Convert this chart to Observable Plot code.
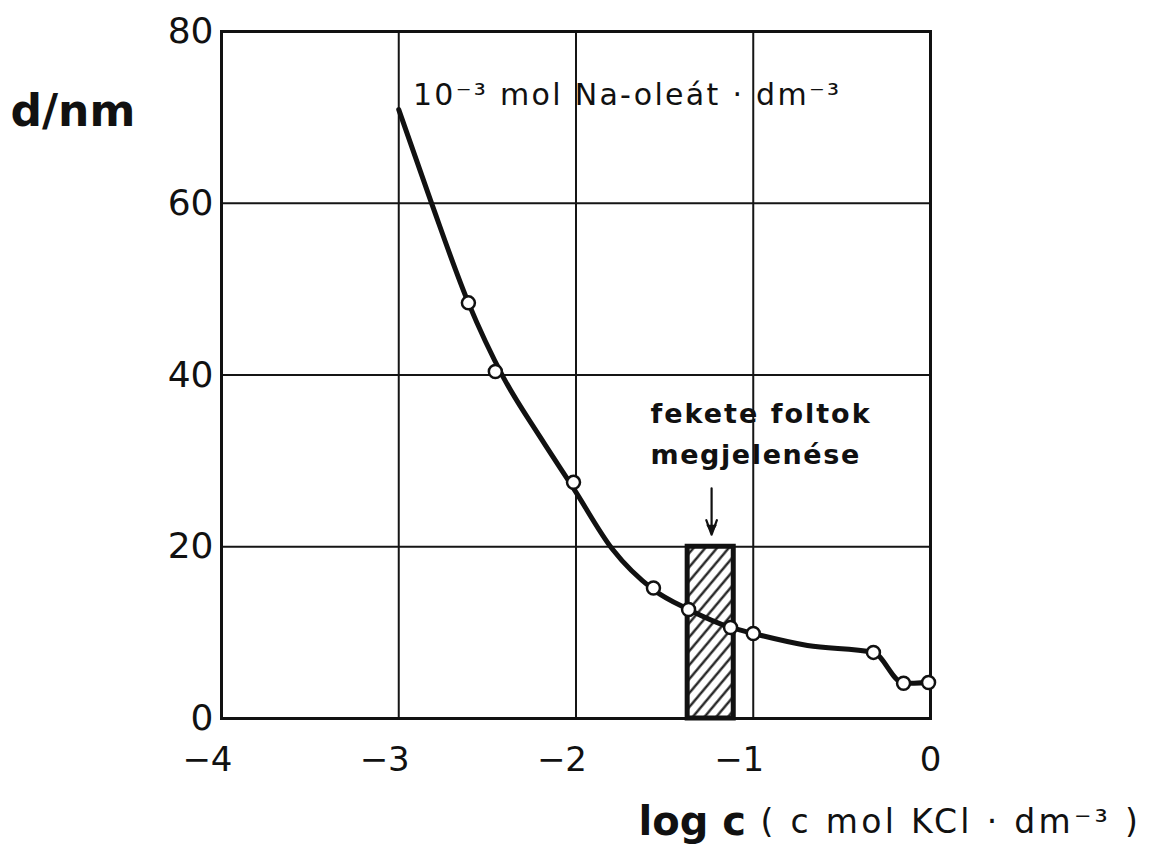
<!DOCTYPE html>
<html><head><meta charset="utf-8">
<script src="https://cdn.jsdelivr.net/npm/d3@7"></script>
<script src="https://cdn.jsdelivr.net/npm/@observablehq/plot@0.6"></script>
<style>body{margin:0;background:#fff} svg{display:block}</style>
</head><body><div id="chart"></div>
<script>
// smooth curve through the measurements (log c, d/nm); starts at log c = -3 without marker
const curveX = [-3.0, -2.82, -2.607, -2.409, -2.2, -2.014, -1.794, -1.563, -1.365, -1.128, -1.0, -0.694, -0.322, -0.152, -0.011];
const curveY = [70.9, 60.3, 48.4, 39.7, 32.7, 26.8, 19.7, 15.0, 12.7, 10.6, 9.9, 8.5, 7.7, 4.1, 4.2];
// measured points (open circles)
const pointX = [-2.607, -2.455, -2.014, -1.563, -1.365, -1.128, -1.0, -0.322, -0.152, -0.011];
const pointY = [48.4, 40.4, 27.5, 15.2, 12.7, 10.6, 9.9, 7.7, 4.1, 4.2];
// hatched band (appearance of black spots)
const bandX1 = [-1.37];
const bandX2 = [-1.11];
const bandTop = [20];
const xTicks = [-4, -3, -2, -1, 0];
const yTicks = [0, 20, 40, 60, 80];
const xDomain = [-4, 0];
const yDomain = [0, 80];

const curve = curveX.map((x, i) => ({x, y: curveY[i]}));
const points = pointX.map((x, i) => ({x, y: pointY[i]}));
const band = bandX1.map((x1, i) => ({x1, x2: bandX2[i], y1: 0, y2: bandTop[i]}));
const fmt = d => d < 0 ? "\u2212" + Math.abs(d) : String(d);

const oleatLabel = "10\u207B\u00B3 mol Na-ole\u00E1t \u00B7 dm\u207B\u00B3";
const spotLabel1 = "fekete foltok";
const spotLabel2 = "megjelenése";
const xUnitLabel = "( c mol KCl \u00B7 dm\u207B\u00B3 )";

const chart = Plot.plot({
  width: 1154, height: 852,
  marginLeft: 221, marginRight: 224, marginTop: 31, marginBottom: 134,
  style: {fontFamily: "DejaVu Sans", background: "#fff", color: "#111"},
  x: {domain: xDomain, axis: null},
  y: {domain: yDomain, axis: null},
  marks: [
    Plot.gridX(xTicks, {stroke: "#151515", strokeOpacity: 1, strokeWidth: 2}),
    Plot.gridY(yTicks, {stroke: "#151515", strokeOpacity: 1, strokeWidth: 2}),
    Plot.frame({stroke: "#111", strokeWidth: 3}),
    Plot.text(xTicks, {x: d => d, frameAnchor: "bottom", lineAnchor: "middle", dy: 42, text: fmt, textAnchor: "end", dx: 11, fontSize: 34, fill: "#111"}),
    Plot.text(yTicks, {y: d => d, frameAnchor: "left", lineAnchor: "middle", dx: -8, text: d => String(d), textAnchor: "end", fontSize: 36, fill: "#111"}),
    Plot.rect(band, {x1: "x1", x2: "x2", y1: "y1", y2: "y2", fill: "url(#hatch)", stroke: "#111", strokeWidth: 5}),
    Plot.line(curve, {x: "x", y: "y", curve: "monotone-x", stroke: "#111", strokeWidth: 5}),
    Plot.dot(points, {x: "x", y: "y", r: 6.5, fill: "#fff", stroke: "#111", strokeWidth: 2.5}),
    Plot.arrow([{x1: -1.235, y1: 26.8, x2: -1.235, y2: 21.4}], {x1: "x1", y1: "y1", x2: "x2", y2: "y2", stroke: "#111", strokeWidth: 2.2, headLength: 12, headAngle: 40}),
    Plot.dot([{x: -1.235, y: 22.2}], {x: "x", y: "y", symbol: "triangle", rotate: 180, r: 4, fill: "#111", stroke: "none"}),
    Plot.text([oleatLabel], {x: -2.92, y: 72.6, text: d => d, textAnchor: "start", lineAnchor: "middle", fontSize: 30, fill: "#111"}),
    Plot.text([spotLabel1], {x: -1.58, y: 35.4, text: d => d, textAnchor: "start", lineAnchor: "middle", fontSize: 27, fontWeight: "bold", fill: "#111"}),
    Plot.text([spotLabel2], {x: -1.58, y: 30.6, text: d => d, textAnchor: "start", lineAnchor: "middle", fontSize: 27, fontWeight: "bold", fill: "#111"}),
    Plot.text(["d/nm"], {frameAnchor: "top-left", lineAnchor: "middle", dx: -211, dy: 80, text: d => d, textAnchor: "start", fontSize: 44, fontWeight: "bold", fill: "#111"}),
    Plot.text(["log c"], {frameAnchor: "bottom-left", lineAnchor: "middle", dx: 417, dy: 104, text: d => d, textAnchor: "start", fontSize: 40, fontWeight: "bold", fill: "#111"}),
    Plot.text([xUnitLabel], {frameAnchor: "bottom-left", lineAnchor: "middle", dx: 539, dy: 104, text: d => d, textAnchor: "start", fontSize: 33, fill: "#111"})
  ]
});

// letter spacing for the hand-lettered labels
const spacing = new Map([[oleatLabel, "2.3px"], [spotLabel1, "2px"], [spotLabel2, "1.6px"], [xUnitLabel, "3.3px"]]);
d3.select(chart).selectAll("text").each(function() {
  const s = spacing.get(this.textContent);
  if (s) this.setAttribute("letter-spacing", s);
});

const defs = d3.select(chart).insert("defs", ":first-child");
const pat = defs.append("pattern").attr("id", "hatch").attr("patternUnits", "userSpaceOnUse")
  .attr("width", 9).attr("height", 9).attr("patternTransform", "rotate(40)");
pat.append("rect").attr("width", 9).attr("height", 9).attr("fill", "#fff");
pat.append("line").attr("x1", 1.5).attr("y1", 0).attr("x2", 1.5).attr("y2", 9).attr("stroke", "#111").attr("stroke-width", 2.2);

document.getElementById("chart").appendChild(chart);
</script>
</body></html>
